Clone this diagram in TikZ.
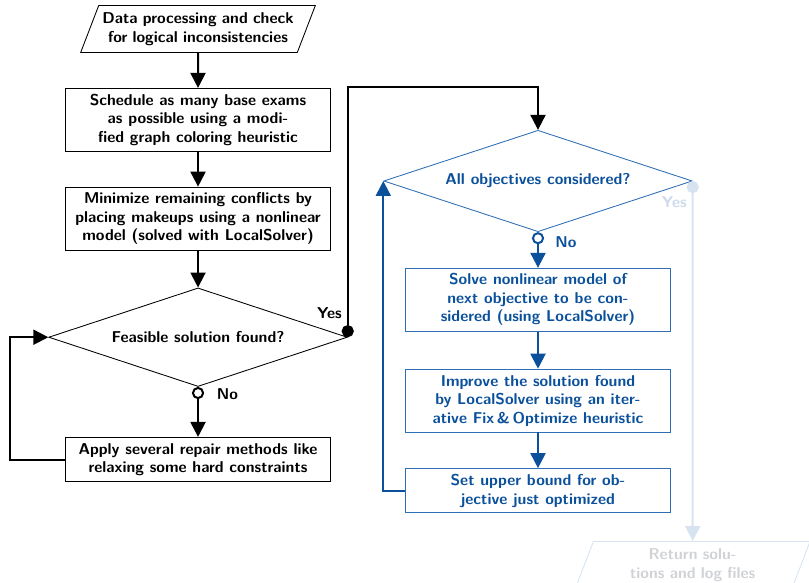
\documentclass[tikz,border=0pt]{standalone}
\usepackage{tikz}
\usetikzlibrary{arrows.meta,positioning,calc,shapes.geometric}
\definecolor{tumblue}{RGB}{10,80,155}
\definecolor{boxblue}{RGB}{45,110,180}
\definecolor{fadeblue}{RGB}{215,227,241}
\definecolor{fadeyes}{RGB}{205,218,235}
\definecolor{fadetext}{RGB}{208,210,214}

\begin{document}
\begin{tikzpicture}[x=0.7pt, y=-0.7pt, font=\fontsize{11pt}{13pt}\selectfont\sffamily\bfseries,
  box/.style={draw, line width=0.6pt, align=center, minimum width=186pt, minimum height=31pt, inner sep=3pt},
  tallbox/.style={box, minimum height=44pt},
  decision/.style={draw, line width=0.6pt, diamond, aspect=3, inner sep=0pt, minimum width=209pt, minimum height=69pt},
  io/.style={draw, line width=0.6pt, trapezium, trapezium left angle=69, trapezium right angle=111, align=center, text width=137pt, inner xsep=1pt, inner ysep=5pt},
  answer/.style={inner sep=1pt},
  flow/.style={line width=1.4pt, -{Triangle[length=10.5pt,width=10.5pt]}},
  yesline/.style={line width=1.4pt, {Circle[length=8.5pt]}-{Triangle[length=10.5pt,width=10.5pt]}},
  noline/.style={line width=1.4pt, {Circle[open,length=8.5pt]}-{Triangle[length=10.5pt,width=10.5pt]}}]
\useasboundingbox (0,0) rectangle (809,583);
\clip (0,0) rectangle (809,583);

% left column
\node (start) [io] at (198,29) {Data processing and check\\for logical inconsistencies};
\node (sched) [tallbox, below=24.5pt of start] {Schedule as many base exams\\as possible using a modi-\\fied graph coloring heuristic};
\node (minconf) [tallbox, below=24.5pt of sched] {Minimize remaining conflicts by\\placing makeups using a nonlinear\\model (solved with LocalSolver)};
\node (feasible) [decision, below=26pt of minconf] {Feasible solution found?};
\node (repair) [box, below=35pt of feasible] {Apply several repair methods like\\relaxing some hard constraints};

% right column
\node (allobj) [decision, text=tumblue, draw=boxblue, minimum width=216pt, minimum height=71pt] at (538,181) {All objectives considered?};
\node (solve) [tallbox, text=tumblue, draw=boxblue, below=25pt of allobj] {Solve nonlinear model of\\next objective to be con-\\sidered (using LocalSolver)};
\node (improve) [tallbox, text=tumblue, draw=boxblue, below=26pt of solve] {Improve the solution found\\by LocalSolver using an iter-\\ative Fix\,\&\,Optimize heuristic};
\node (bound) [box, text=tumblue, draw=boxblue, below=25pt of improve] {Set upper bound for ob-\\jective just optimized};
\node (ret) [io, draw=fadeblue, text=fadetext, below=252pt of allobj.east] {Return solu-\\tions and log files};

% answers
\node (yes1) [answer, above left=11.5pt and 3pt of feasible.east] {Yes};
\node (no1) [answer, right=12pt of feasible.south, yshift=-5pt] {No};
\node (no2) [answer, text=tumblue, right=11pt of allobj.south, yshift=-7pt] {No};
\node (yes2) [answer, text=fadeyes, below left=10pt and 3pt of allobj.east] {Yes};

\draw [flow] (start) -- (sched);
\draw [flow] (sched) -- (minconf);
\draw [flow] (minconf) -- (feasible);
\draw [noline] (feasible) -- (repair);
\draw [flow] (repair.west) -- ++(-38pt,0) |- (feasible.west);
\draw [yesline] (feasible.east) |- ([yshift=30pt]allobj.north) -- (allobj.north);

\draw [noline, tumblue] (allobj) -- (solve);
\draw [flow, tumblue] (solve) -- (improve);
\draw [flow, tumblue] (improve) -- (bound);
\draw [flow, tumblue] (bound.west) -| (allobj.west);
\draw [yesline, fadeblue] (allobj.east) -- (ret);
\end{tikzpicture}
\end{document}
